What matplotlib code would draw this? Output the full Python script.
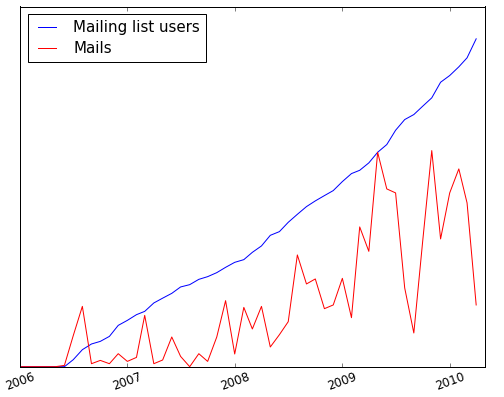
import datetime as dt
import matplotlib
matplotlib.use('Agg')
import matplotlib.pyplot as plt
import matplotlib.dates as mdates

# monthly values, Jan 2006 .. Apr 2010 (no units shown on the chart)
start_year, start_month = 2006, 1
users = [0, 0, 0, 0, 0, 0, 7, 17, 22.7, 25.3, 30.3, 41.3,
         46.3, 52, 55.3, 63.7, 68.5, 73.3, 79.7, 82, 87.3, 90, 94, 99.3,
         104.3, 107, 114.3, 120.7, 131.3, 135, 144.3, 152.3, 160, 165.7, 171, 176,
         185, 193, 196.3, 203.7, 214.3, 222, 236.3, 247, 252, 260.3, 268.7, 284.3,
         291, 299.7, 308.7, 327.7]
mails = [0, 0, 0, 0, 0, 1.3, 31, 60.3, 3, 6.3, 3, 13,
         5.3, 9.3, 51.3, 3, 6.7, 29.7, 10.3, 0, 13, 5.3, 29.7, 66,
         12.7, 59.3, 37.7, 60.3, 19.7, 32, 45, 111.7, 82.7, 87.7, 58, 61.7,
         88.3, 49, 139.7, 115.3, 214.3, 177.7, 173.7, 78.7, 33.7, 125, 216, 127.7,
         173.7, 197.7, 163.7, 61.7]

months = []
for i in range(len(users)):
    m = start_month - 1 + i
    months.append(dt.date(start_year + m // 12, m % 12 + 1, 1))

plt.style.use('classic')
fig = plt.figure(figsize=(7, 397 / 72.0), dpi=72)
ax = fig.add_axes([20 / 504, 1 - 366.7 / 397, 465 / 504, 360.2 / 397])

ax.plot(months, users, color='b', label='Mailing list users')
ax.plot(months, mails, color='r', label='Mails')

ax.set_xlim(dt.date(2006, 1, 1), dt.date(2010, 5, 1))
ax.set_ylim(0, 360)
ax.set_yticks([])
ax.xaxis.set_major_locator(mdates.YearLocator())
ax.xaxis.set_major_formatter(mdates.DateFormatter('%Y'))
plt.setp(ax.get_xticklabels(), rotation=20, fontsize=12)

ax.legend(loc='upper left', fontsize=15, borderpad=0.4, labelspacing=0.4,
          handlelength=1.8, handletextpad=0.85, borderaxespad=0.5)

fig.savefig('out.png', dpi=72)
